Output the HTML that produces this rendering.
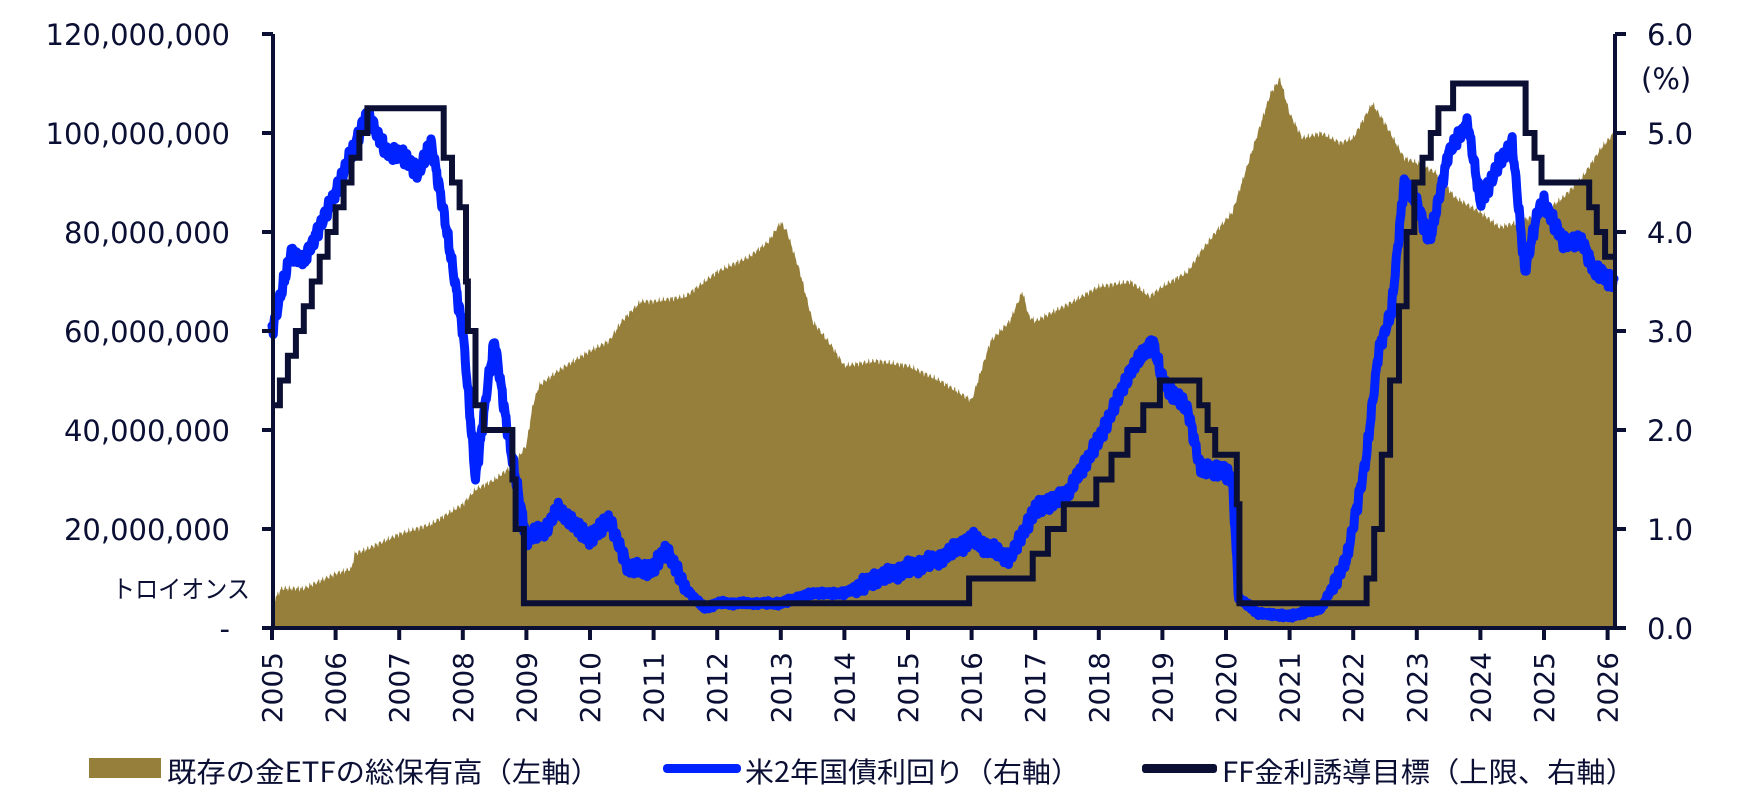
<!DOCTYPE html>
<html><head><meta charset="utf-8"><style>
html,body{margin:0;padding:0;background:#fff;}
svg{display:block;font-family:"DejaVu Sans","Noto Sans CJK JP",sans-serif;}
</style></head><body>
<svg id="c" width="1740" height="810" xmlns="http://www.w3.org/2000/svg">
<g id="plot"></g>
<g fill="#0a0f33" font-size="29">
<text x="230" y="45" text-anchor="end">120,000,000</text>
<text x="230" y="144" text-anchor="end">100,000,000</text>
<text x="230" y="243" text-anchor="end">80,000,000</text>
<text x="230" y="342" text-anchor="end">60,000,000</text>
<text x="230" y="441" text-anchor="end">40,000,000</text>
<text x="230" y="540" text-anchor="end">20,000,000</text>
<text x="230" y="639" text-anchor="end">-</text>
<text x="250" y="598" text-anchor="end" font-size="25" font-family="Noto Sans CJK JP, sans-serif" textLength="138" lengthAdjust="spacingAndGlyphs">トロイオンス</text>
<text x="1647" y="45">6.0</text>
<text x="1641" y="89">(%)</text>
<text x="1647" y="144">5.0</text>
<text x="1647" y="243">4.0</text>
<text x="1647" y="342">3.0</text>
<text x="1647" y="441">2.0</text>
<text x="1647" y="540">1.0</text>
<text x="1647" y="639">0.0</text>
</g>
<g id="years" fill="#0a0f33" font-size="28"></g>
<g font-size="28" fill="#0a0f33" font-family="Noto Sans CJK JP, sans-serif">
<rect x="89" y="758" width="72" height="20" fill="#957f3a"/>
<text x="167" y="782" textLength="433" lengthAdjust="spacingAndGlyphs">既存の金ETFの総保有高（左軸）</text>
<rect x="663" y="764" width="78" height="9" rx="4" fill="#0022ff"/>
<text x="745" y="782" textLength="335" lengthAdjust="spacingAndGlyphs">米2年国債利回り（右軸）</text>
<rect x="1142" y="764" width="75" height="9" rx="3" fill="#0a0f33"/>
<text x="1222" y="782" textLength="413" lengthAdjust="spacingAndGlyphs">FF金利誘導目標（上限、右軸）</text>
</g>
</svg>
<script>
var X=function(y){return 272+(y-2005)*63.6;};
var YR=function(p){return 628-p*99;};
var YL=function(m){return 628-m*4.95;};
var gold=[[2005,5],[2005.15,8],[2005.5,8],[2006,11],[2006.25,12],[2006.3,15],[2006.5,16],[2007,19],[2007.5,21],[2008,25],[2008.2,28],[2008.5,30],[2008.8,33],[2009,37],[2009.1,45],[2009.2,49],[2009.5,52],[2010,56],[2010.3,58],[2010.5,62],[2010.8,66],[2011,66],[2011.5,67],[2011.8,70],[2012,72],[2012.5,75],[2012.8,78],[2013,82],[2013.1,80],[2013.3,72],[2013.5,62],[2013.8,57],[2014,53],[2014.5,54],[2015,53],[2015.5,50],[2016,46],[2016.1,50],[2016.3,58],[2016.6,62],[2016.8,68],[2016.9,63],[2017,62],[2017.3,64],[2017.6,66],[2018,69],[2018.5,70],[2018.8,67],[2019,69],[2019.4,72],[2019.6,76],[2019.9,81],[2020.1,84],[2020.3,92],[2020.5,100],[2020.7,108],[2020.85,111],[2021,104],[2021.2,99],[2021.5,100],[2021.8,98],[2022,99],[2022.3,106],[2022.5,102],[2022.8,95],[2023,94],[2023.3,92],[2023.6,87],[2024,84],[2024.3,81],[2024.6,82],[2025,84],[2025.3,87],[2025.6,91],[2025.9,97],[2026.1,100]];
var blue=[[2005,3.0],[2005.3,3.8],[2005.5,3.7],[2006,4.4],[2006.5,5.2],[2006.8,4.8],[2007,4.8],[2007.3,4.6],[2007.5,4.9],[2007.7,4.2],[2008,3.0],[2008.2,1.5],[2008.4,2.5],[2008.5,2.9],[2008.7,2.0],[2009,0.9],[2009.3,1.0],[2009.5,1.2],[2010,0.9],[2010.3,1.1],[2010.6,0.6],[2011,0.6],[2011.2,0.8],[2011.5,0.4],[2011.8,0.2],[2012,0.25],[2013,0.25],[2013.5,0.35],[2014,0.35],[2014.5,0.5],[2015,0.6],[2015.5,0.7],[2016,0.9],[2016.3,0.8],[2016.6,0.7],[2017,1.2],[2017.5,1.35],[2018,1.9],[2018.5,2.6],[2018.85,2.9],[2019,2.5],[2019.4,2.2],[2019.6,1.6],[2019.9,1.6],[2020.1,1.5],[2020.2,0.3],[2020.5,0.15],[2021,0.12],[2021.5,0.2],[2021.9,0.7],[2022.2,1.7],[2022.4,2.8],[2022.6,3.2],[2022.8,4.5],[2023,4.3],[2023.2,3.9],[2023.5,4.8],[2023.8,5.1],[2024,4.3],[2024.3,4.7],[2024.5,4.9],[2024.7,3.6],[2024.9,4.2],[2025,4.3],[2025.3,3.9],[2025.6,3.9],[2025.8,3.6],[2026.1,3.5]];
var ff=[[2005,2.25]];
for(var i=1;i<=12;i++)ff.push([2005+i*0.125,2.25+i*0.25]);
ff=ff.concat([[2007.7,4.75],[2007.83,4.5],[2007.95,4.25],[2008.05,3.5],[2008.08,3.0],[2008.2,2.25],[2008.33,2.0],[2008.78,1.5],[2008.83,1.0],[2008.96,0.25],[2015.96,0.5],[2016.96,0.75],[2017.2,1.0],[2017.45,1.25],[2017.96,1.5],[2018.2,1.75],[2018.45,2.0],[2018.7,2.25],[2018.96,2.5],[2019.58,2.25],[2019.71,2.0],[2019.83,1.75],[2020.17,1.25],[2020.21,0.25],[2022.21,0.5],[2022.33,1.0],[2022.45,1.75],[2022.58,2.5],[2022.72,3.25],[2022.84,4.0],[2022.96,4.5],[2023.09,4.75],[2023.22,5.0],[2023.34,5.25],[2023.57,5.5],[2024.71,5.0],[2024.85,4.75],[2024.96,4.5],[2025.71,4.25],[2025.83,4.0],[2025.96,3.75]]);
function interp(arr,t){for(var i=1;i<arr.length;i++){if(t<=arr[i][0]){var a=arr[i-1],b=arr[i];return a[1]+(b[1]-a[1])*(t-a[0])/(b[0]-a[0]);}}return arr[arr.length-1][1];}
function noise(t,s){return Math.sin(t*97.3)*0.5+Math.sin(t*213.7+1.3)*0.3+Math.sin(t*451.1+2.1)*0.2;}
var g='';
var d='M'+X(2005)+',628';
for(var t=2005;t<=2026.1;t+=0.01){var v=interp(gold,t)+noise(t)*0.8;d+=' L'+X(t).toFixed(1)+','+YL(v).toFixed(1);}
d+=' L'+X(2026.1)+',628Z';
g+='<path d="'+d+'" fill="#957f3a"/>';
d='';var first=true;
for(var t=2005;t<=2026.1;t+=0.01){var base=interp(blue,t);var amp=base<0.4?0.03:0.09;var v=base+noise(t+3)*amp;d+=(first?'M':' L')+X(t).toFixed(1)+','+YR(v).toFixed(1);first=false;}
g+='<path d="'+d+'" fill="none" stroke="#0022ff" stroke-width="9" stroke-linejoin="round" stroke-linecap="round"/>';
d='';ff.forEach(function(p,i){if(i)d+=' H'+X(p[0]).toFixed(1)+' V'+YR(p[1]).toFixed(1);else d+='M'+X(p[0])+','+YR(p[1]);});d+=' H'+X(2026.1);
g+='<path d="'+d+'" fill="none" stroke="#0a0f33" stroke-width="6"/>';
g+='<path d="M273,34V628M1615,34V628M270,628H1618" stroke="#0a0f33" stroke-width="4" fill="none"/>';
for(var k=0;k<=6;k++){var yy=34+k*99;g+='<path d="M262,'+yy+'H273M1615,'+yy+'H1626" stroke="#0a0f33" stroke-width="4"/>';}
var yt='';
for(var y=2005;y<=2026;y++){var x=X(y);g+='<path d="M'+x+',628V640" stroke="#0a0f33" stroke-width="4"/>';yt+='<text transform="translate('+(x+10)+',652) rotate(-90)" text-anchor="end">'+y+'</text>';}
document.getElementById('plot').innerHTML=g;
document.getElementById('years').innerHTML=yt;
</script>
</body></html>
